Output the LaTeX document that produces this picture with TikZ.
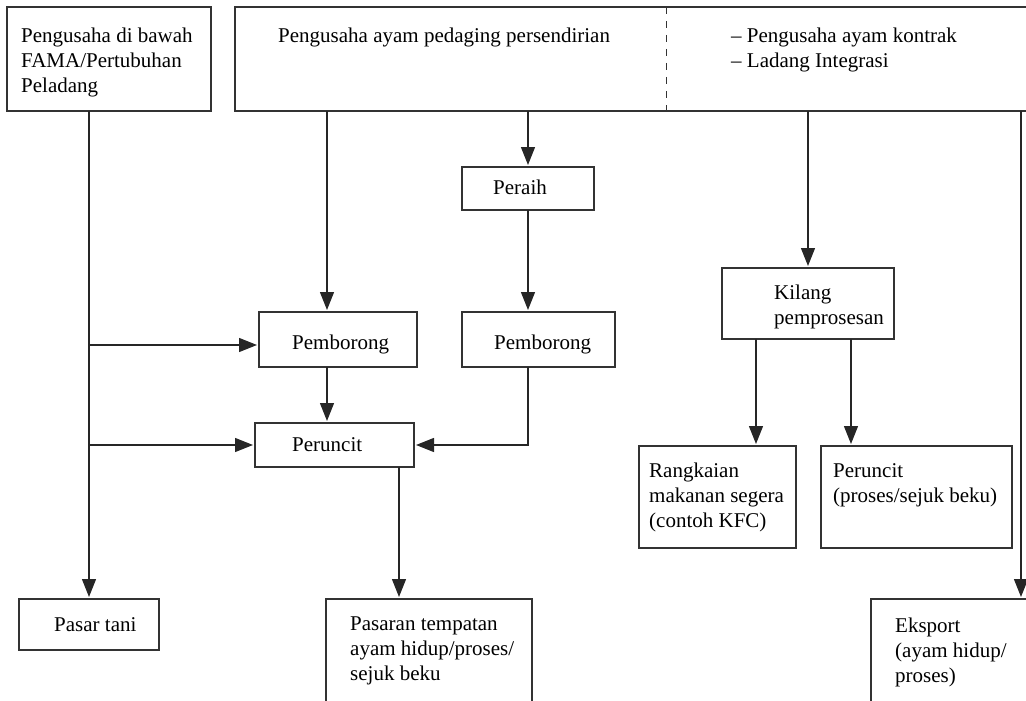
\documentclass[tikz,border=0pt]{standalone}
\usepackage{fontspec}
\setmainfont{Liberation Serif}
\usetikzlibrary{arrows.meta,calc}

\tikzset{
  kotak/.style={draw=black!80, line width=1.2pt, inner sep=0pt, outer sep=0pt, anchor=north west},
  isi/.style={inner sep=0pt, anchor=north west, align=left, font=\fontsize{21}{25}\selectfont},
  panah/.style={draw=black!85, line width=1.2pt, -{Triangle[length=18pt,width=14pt]}, shorten >=2pt}
}

\begin{document}
\begin{tikzpicture}[x=1pt,y=-1pt]
\useasboundingbox (0,0) rectangle (1026,701);
\clip (0,0) rectangle (1026,701);

% kotak
\node[kotak, minimum width=204pt, minimum height=104pt] (fama) at (7,7) {};
\node[kotak, minimum width=805pt, minimum height=104pt] (swasta) at (235,7) {};
\node[kotak, minimum width=132pt, minimum height=43pt] (peraih) at (462,167) {};
\node[kotak, minimum width=158pt, minimum height=55pt] (borong1) at (259,312) {};
\node[kotak, minimum width=153pt, minimum height=55pt] (borong2) at (462,312) {};
\node[kotak, minimum width=159pt, minimum height=44pt] (runcit) at (255,423) {};
\node[kotak, minimum width=172pt, minimum height=71pt] (kilang) at (722,268) {};
\node[kotak, minimum width=157pt, minimum height=102pt] (kfc) at (639,446) {};
\node[kotak, minimum width=191pt, minimum height=102pt] (runcitbeku) at (821,446) {};
\node[kotak, minimum width=140pt, minimum height=51pt] (tani) at (19,599) {};
\node[kotak, minimum width=206pt, minimum height=130pt] (tempatan) at (326,599) {};
\node[kotak, minimum width=170pt, minimum height=130pt] (eksport) at (871,599) {};

% teks
\node[isi] (tfama) at ([shift={(14,21)}]fama.north west) {Pengusaha di bawah\\FAMA/Pertubuhan\\Peladang};
\node[isi] (tswasta) at ([shift={(43,21)}]swasta.north west) {Pengusaha ayam pedaging persendirian};
\node[isi] (tkontrak) at ([shift={(496,21)}]swasta.north west) {-- Pengusaha ayam kontrak\\-- Ladang Integrasi};
\node[isi] (tperaih) at ([shift={(31,13)}]peraih.north west) {Peraih};
\node[isi] (tborong1) at ([shift={(33,23)}]borong1.north west) {Pemborong};
\node[isi] (tborong2) at ([shift={(32,23)}]borong2.north west) {Pemborong};
\node[isi] (truncit) at ([shift={(37,14)}]runcit.north west) {Peruncit};
\node[isi] (tkilang) at ([shift={(52,17)}]kilang.north west) {Kilang\\pemprosesan};
\node[isi] (tkfc) at ([shift={(10,17)}]kfc.north west) {Rangkaian\\makanan segera\\(contoh KFC)};
\node[isi] (truncitbeku) at ([shift={(12,17)}]runcitbeku.north west) {Peruncit\\(proses/sejuk beku)};
\node[isi] (ttani) at ([shift={(35,18)}]tani.north west) {Pasar tani};
\node[isi] (ttempatan) at ([shift={(24,18)}]tempatan.north west) {Pasaran tempatan\\ayam hidup/proses/\\sejuk beku};
\node[isi] (teksport) at ([shift={(24,19)}]eksport.north west) {Eksport\\(ayam hidup/\\proses)};

% garis putus dalam kotak atas
\coordinate (xg) at (666,0);
\draw[black!80, line width=1pt, dash pattern=on 7pt off 7pt] (swasta.north -| xg) -- (swasta.south -| xg);

% anak panah
\coordinate (xa) at (327,0);
\coordinate (xb) at (399,0);
\coordinate (xc) at (756,0);
\coordinate (xd) at (851,0);
\coordinate (xe) at (1021,0);

\draw[panah] (fama.south -| tani.north) -- (tani.north);
\draw[panah] ([yshift=-5.5pt]borong1.west -| tani.north) -- ([yshift=-5.5pt]borong1.west);
\draw[panah] (runcit.west -| tani.north) -- (runcit.west);
\draw[panah] (swasta.south -| xa) -- (borong1.north -| xa);
\draw[panah] (swasta.south -| peraih.north) -- (peraih.north);
\draw[panah] (peraih.south) -- (borong2.north -| peraih.south);
\draw[panah] (borong1.south -| xa) -- (runcit.north -| xa);
\draw[panah] (borong2.south -| peraih.south) |- (runcit.east);
\draw[panah] (runcit.south -| xb) -- (tempatan.north -| xb);
\draw[panah] (swasta.south -| kilang.north) -- (kilang.north);
\draw[panah] (kilang.south -| xc) -- (kfc.north -| xc);
\draw[panah] (kilang.south -| xd) -- (runcitbeku.north -| xd);
\draw[panah] (swasta.south -| xe) -- (eksport.north -| xe);
\end{tikzpicture}
\end{document}
